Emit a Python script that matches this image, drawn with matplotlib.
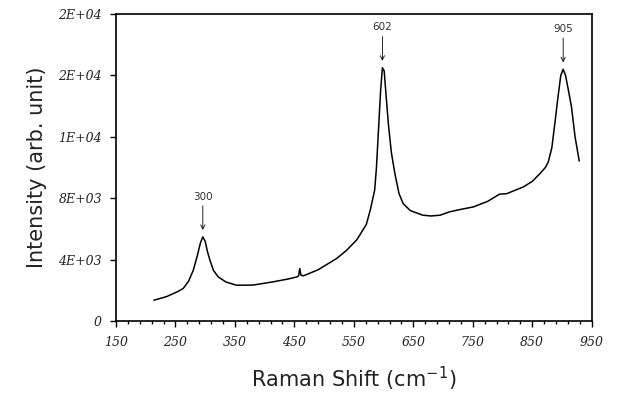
import numpy as np
import matplotlib
matplotlib.use('Agg')
import matplotlib.pyplot as plt

# Raman spectrum (shift in cm-1, intensity in arb. unit)
shift = [214, 235, 255, 263, 272, 280, 287, 292, 296, 300, 304, 308, 314,
         322, 335, 353, 380, 414, 440, 454, 457, 459, 461, 465, 490, 521,
         538, 555, 563, 571, 578, 585, 588, 592, 595, 598, 601, 604, 608,
         613, 619, 626, 633, 645, 666, 680, 695, 711, 730, 751, 775, 795,
         807, 835, 850, 863, 872, 877, 883, 888, 893, 898, 902, 906, 910,
         916, 922, 929]
intensity = [1370, 1600, 1950, 2130, 2600, 3320, 4300, 5100, 5490, 5200,
             4500, 3970, 3300, 2880, 2550, 2340, 2350, 2560, 2750, 2880,
             2950, 3430, 3000, 2950, 3350, 4080, 4620, 5300, 5800, 6300,
             7300, 8530, 10000, 12870, 15000, 16500, 16300, 14800, 12870,
             11000, 9610, 8300, 7650, 7200, 6900, 6850, 6900, 7120, 7280,
             7440, 7800, 8270, 8300, 8740, 9100, 9610, 10000, 10370, 11300,
             12870, 14500, 16000, 16400, 16000, 15200, 13950, 12000, 10440]

peak_labels = ['300', '602', '905']
peak_x = [296, 598, 902]
peak_y = [5490, 16500, 16400]

xticks = [150, 250, 350, 450, 550, 650, 750, 850, 950]
yticks = [0, 4000, 8000, 12000, 16000, 20000]
ylabels = ['0', '4E+03', '8E+03', '1E+04', '2E+04', '2E+04']

fig = plt.figure(figsize=(6.17, 3.99), dpi=100)
ax = fig.add_axes([0.188, 0.195, 0.771, 0.770])

ax.plot(shift, intensity, color='black', lw=1.1)

for lab, px, py in zip(peak_labels, peak_x, peak_y):
    ax.annotate(lab, xy=(px, py + 450), xytext=(px, py + 2300),
                ha='center', va='bottom', fontsize=7.5, color='#333333',
                arrowprops=dict(arrowstyle='->', lw=0.6, color='black',
                                shrinkA=1, shrinkB=0))

ax.set_xlim(150, 950)
ax.set_ylim(0, 20000)
ax.set_xticks(xticks)
ax.set_xticks(np.arange(150, 951, 20), minor=True)
ax.set_xticklabels([str(v) for v in xticks], fontstyle='italic',
                   family='DejaVu Serif', color='#222222')
ax.set_yticks(yticks)
ax.set_yticklabels(ylabels, fontstyle='italic', family='DejaVu Serif',
                   color='#222222')
ax.tick_params(direction='out', labelsize=9, length=4, width=1)
ax.tick_params(which='minor', direction='out', length=2.5, width=1)
ax.tick_params(axis='y', pad=6)
ax.tick_params(axis='x', pad=7)
for s in ax.spines.values():
    s.set_linewidth(1.2)

ax.set_xlabel('Raman Shift (cm$^{-1}$)', fontsize=15, labelpad=11,
              color='#222222')
ax.set_ylabel('Intensity (arb. unit)', fontsize=15, labelpad=8,
              color='#222222')

fig.savefig('out.png', dpi=100)
